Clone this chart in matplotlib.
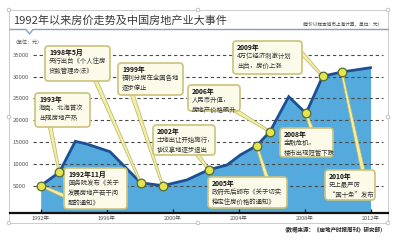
import numpy as np
import matplotlib
matplotlib.use("Agg")
import matplotlib.pyplot as plt
import matplotlib.transforms as mtransforms
from matplotlib.patches import FancyBboxPatch, Polygon, Circle

plt.rcParams['font.family'] = ['Noto Sans CJK SC', 'DejaVu Sans']

# price curve (Shanghai sample, yuan / m2)
years = [1992.0, 1993.13, 1994.1, 1994.8, 1996.2, 1998.06, 1999.4, 2000.85, 2002.2,
         2003.3, 2004.1, 2005.1, 2005.9, 2007.04, 2008.09, 2009.1, 2010.25, 2012.0]
prices = [5000, 8070, 15180, 14560, 12800, 5690, 5000, 6300, 8670,
          9750, 12040, 14180, 17390, 25420, 21600, 30090, 31080, 32060]

# events marked on the curve
event_years = [1992.0, 1993.13, 1998.06, 1999.4, 2002.2, 2005.1, 2005.9, 2008.09, 2009.1, 2010.25]
event_prices = [5000, 8070, 5690, 5000, 8670, 14180, 17390, 21600, 30090, 31080]
event_titles = ['1992年11月', '1993年', '1998年5月', '1999年', '2002年',
                '2005年', '2006年', '2008年', '2009年', '2010年']
event_texts = ['国务院发布《关于\n发展房地产若干问\n题的通知》',
               '海南、北海首次\n出现房地产热',
               '央行出台《个人住房\n贷款管理办法》',
               '福利分房在全国各地\n逐步停止',
               '土地出让开始施行，\n协议拿地逐步退出',
               '政府先后颁布《关于切实\n稳定住房价格的通知》',
               '人民币升值，\n房地产价格飙升',
               '金融危机，\n楼市出现短暂下跌',
               '4万亿经济刺激计划\n出台，房价上涨',
               '史上最严厉\n“国十条”发布']

xticks = [1992, 1996, 2000, 2004, 2008, 2012]
yticks = [5000, 10000, 15000, 20000, 25000, 30000, 35000]

# layout (pixels from top-left): box left, top, width, height ; leader start
boxes = [(64, 168, 63, 41), (35, 93, 55, 34), (45, 46, 65, 35), (118, 63, 65, 32),
         (153, 125, 62, 30), (208, 177, 79, 31), (188, 85, 52, 26), (280, 128, 53, 29),
         (233, 41, 69, 33), (325, 170, 50, 30)]
leaders = [(67, 197), (50, 126), (95, 79), (132, 94), (197, 154), (267, 178),
           (233, 109), (312, 130), (299, 50), (363, 171)]

W, H = 398, 240
fig = plt.figure(figsize=(W / 100, H / 100), dpi=100)
fig.patch.set_facecolor('white')
px = mtransforms.Affine2D().scale(1 / W, -1 / H).translate(0, 1) + fig.transFigure

ax = fig.add_axes([10 / W, 1 - 213 / H, 378 / W, 168 / H])
ax.patch.set_alpha(0)
ax.set_xlim(1990.14, 2013.06)
ax.set_ylim(-1261, 37270)
for s in ['top', 'right', 'left']:
    ax.spines[s].set_visible(False)
ax.spines['bottom'].set_linewidth(1.6)
ax.spines['bottom'].set_color('#111111')
ax.spines['bottom'].set_zorder(6)

ax.fill_between(years, prices, -1261, color='#54aadc', lw=0, zorder=1)
for v in yticks:
    ax.axhline(v, xmin=0.061, xmax=0.987, color='#4a4a4a', lw=0.8, ls=(0, (3, 2.5)), zorder=2)
ax.plot(years, prices, color='#1d4f93', lw=2.0, zorder=3, solid_joinstyle='miter')

ax.set_xticks(xticks)
ax.set_xticklabels([f'{y}年' for y in xticks])
ax.tick_params(axis='x', direction='in', length=3, width=0.9, color='#111111',
               labelsize=4, labelcolor='#555555', pad=2.5)
ax.set_yticks(yticks)
ax.set_yticklabels([str(v) for v in yticks])
ax.tick_params(axis='y', length=0, pad=-2, labelsize=4.3, labelcolor='#555555')
for t in ax.get_yticklabels():
    t.set_ha('left')

# leaders, boxes, markers
for i in range(len(event_years)):
    tx, ty = px.inverted().transform(ax.transData.transform((event_years[i], event_prices[i])))
    sx, sy = leaders[i]
    d = np.array([tx - sx, ty - sy])
    d = d / np.hypot(*d)
    n = np.array([-d[1], d[0]]) * 2.0
    wedge = Polygon([(sx + n[0], sy + n[1]), (sx - n[0], sy - n[1]),
                     (tx - n[0] * 0.5, ty - n[1] * 0.5), (tx + n[0] * 0.5, ty + n[1] * 0.5)],
                    closed=True, fc='#f3efa2', ec='#b9b26a', lw=0.5, transform=px,
                    clip_on=False, zorder=4)
    ax.add_artist(wedge)

    bx, by, bw, bh = boxes[i]
    box = FancyBboxPatch((bx, by), bw, bh, boxstyle='round,pad=0,rounding_size=3.5',
                         fc='#fcfbe9', ec='#cbc27c', lw=1.2, transform=px,
                         clip_on=False, zorder=5)
    ax.add_artist(box)
    ax.text(bx + 4, by + 3, event_titles[i], transform=px, fontsize=4.9, fontweight='bold',
            color='#111111', va='top', ha='left', clip_on=False, zorder=6)
    ax.text(bx + 4, by + 11, event_texts[i], transform=px, fontsize=4.6, color='#333333',
            va='top', ha='left', linespacing=1.4, clip_on=False, zorder=6)

ax.plot(event_years, event_prices, 'o', ms=6.2, mfc='#e2e54e', mec='#5b6a2c', mew=0.9,
        zorder=7, clip_on=False)

# header, notes, frame
ax.text(13, 21, '1992年以来房价走势及中国房地产业大事件', transform=px, fontsize=8,
        color='#3a3a3a', va='center', ha='left', clip_on=False)
ax.text(383, 24.5, '（房价以样本城市上海计算，单位：元）', transform=px, fontsize=3.3,
        color='#444444', va='center', ha='right', clip_on=False)
ax.plot([10, 26, 29.5, 33, 388], [29.5, 29.5, 34, 29.5, 29.5], color='#8aa0b8', lw=1,
        transform=px, clip_on=False)
ax.text(12, 43, '（单位：元）', transform=px, fontsize=3.6, color='#555555',
        va='center', ha='left', clip_on=False)
ax.text(386, 230, '（数据来源：《房地产时报周刊》研究部）', transform=px, fontsize=4,
        fontweight='bold', color='#222222', va='center', ha='right', clip_on=False)

ax.plot([9, 388, 388, 9, 9], [10, 10, 223, 223, 10], color='#cccccc', lw=0.7,
        transform=px, clip_on=False, zorder=0)
for cx, cy in [(9, 10), (198, 10), (388, 10), (9, 117), (388, 117), (9, 223), (198, 223), (388, 223)]:
    ax.add_artist(Circle((cx, cy), 1.8, fc='white', ec='#bbbbbb', lw=0.6, transform=px,
                         clip_on=False, zorder=8))

fig.savefig('out.png', dpi=100)
